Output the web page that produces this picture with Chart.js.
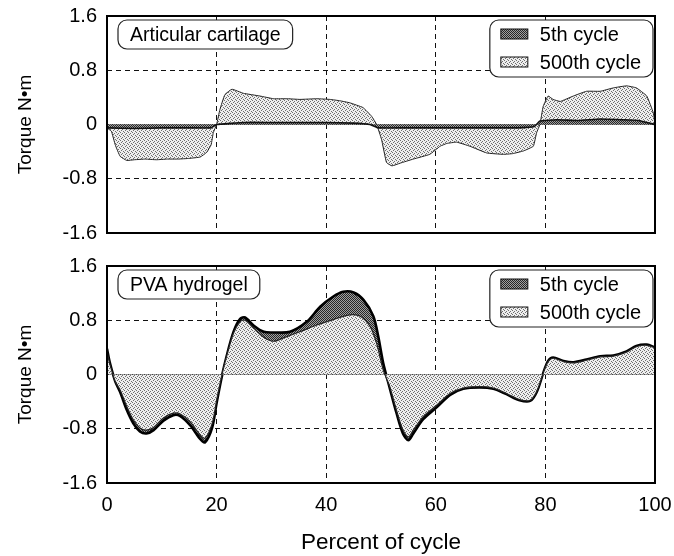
<!DOCTYPE html>
<html><head><meta charset="utf-8">
<script src="https://cdn.jsdelivr.net/npm/chart.js@4.4.1/dist/chart.umd.min.js"></script>
<style>
html,body{margin:0;padding:0;background:#fff;}
#wrap{position:relative;width:674px;height:556px;background:#fff;}
#c1{position:absolute;left:0;top:0;width:674px;height:250px;}
#c2{position:absolute;left:0;top:250px;width:674px;height:306px;}
</style></head><body>
<div id="wrap"><canvas id="c1" width="674" height="250"></canvas><canvas id="c2" width="674" height="306"></canvas></div>
<script>
// ---------- data ----------
const panelTitles = ['Articular cartilage', 'PVA hydrogel'];
const seriesNames = ['5th cycle', '500th cycle'];
const xTickValues = [0, 20, 40, 60, 80, 100];
const xTickLabels = ['0', '20', '40', '60', '80', '100'];
const yTickValues = [-1.6, -0.8, 0, 0.8, 1.6];
const yTickLabels = ['-1.6', '-0.8', '0', '0.8', '1.6'];
const xTitle = 'Percent of cycle';
const yTitle = 'Torque N\u2022m';

// Articular cartilage, 5th cycle
const cart5X = [0, 5, 10, 15, 19, 20, 25, 30, 35, 40, 45, 48, 49.5, 55, 60, 65, 70, 75, 78, 79, 82, 86, 90, 94, 97, 100];
const cart5Y = [-0.05, -0.06, -0.05, -0.05, -0.05, 0, 0.03, 0.03, 0.03, 0.03, 0.02, 0, -0.05, -0.05, -0.05, -0.05, -0.05, -0.05, -0.03, 0.05, 0.07, 0.06, 0.08, 0.07, 0.06, 0];
// Articular cartilage, 500th cycle
const cart500X = [0, 0.8, 1.5, 2.4, 3.6, 5, 7, 9, 11, 13, 15, 17, 18.2, 19, 19.4, 20, 20.6, 21.5, 22.8, 24.9, 27.9, 30.4, 33, 35.2, 38.3, 40.7, 42.5, 44.3, 46.7, 48.3, 49.2, 50.1, 51, 52, 53.5, 55.9, 58.9, 60.8, 62, 63.8, 66.2, 69.3, 72.3, 74, 76, 77.8, 78.4, 79, 79.6, 80.5, 81.4, 82.7, 85.1, 87.5, 90, 92.4, 94.8, 96.6, 98.5, 99.7, 100];
const cart500Y = [-0.05, -0.1, -0.3, -0.47, -0.53, -0.52, -0.51, -0.52, -0.51, -0.51, -0.5, -0.48, -0.41, -0.3, -0.12, 0, 0.22, 0.44, 0.52, 0.46, 0.42, 0.38, 0.38, 0.37, 0.38, 0.37, 0.35, 0.32, 0.25, 0.12, 0, -0.22, -0.56, -0.61, -0.57, -0.51, -0.44, -0.32, -0.28, -0.26, -0.32, -0.42, -0.44, -0.43, -0.39, -0.32, -0.12, 0, 0.27, 0.42, 0.37, 0.34, 0.42, 0.49, 0.49, 0.54, 0.57, 0.54, 0.42, 0.17, 0];

// PVA hydrogel, 5th cycle
const pva5X = [0, 0.5, 1.5, 2.4, 3.6, 4.8, 6, 7.2, 8.5, 10.3, 12.1, 13.3, 15.2, 17, 17.9, 19.2, 20, 20.9, 21.8, 23.1, 24.3, 25.2, 26.8, 28.6, 30.4, 33.4, 36.5, 38.9, 41.3, 43.1, 45, 46.8, 48.6, 49.5, 50.4, 51.6, 52.8, 54, 55, 55.9, 57.7, 60.2, 62.6, 65, 68, 70.5, 72.9, 75.3, 77.2, 78.4, 79.6, 80.5, 81.4, 83.3, 85.1, 87.5, 90, 92.4, 94.8, 96.6, 98.5, 100];
const pva5Y = [0.38, 0.18, -0.1, -0.26, -0.52, -0.72, -0.84, -0.87, -0.82, -0.68, -0.6, -0.61, -0.75, -0.95, -1.0, -0.78, -0.42, -0.05, 0.26, 0.63, 0.82, 0.84, 0.72, 0.63, 0.62, 0.63, 0.78, 1.0, 1.15, 1.22, 1.21, 1.1, 0.86, 0.56, 0.17, -0.2, -0.56, -0.87, -0.97, -0.87, -0.66, -0.48, -0.3, -0.21, -0.19, -0.21, -0.29, -0.38, -0.39, -0.26, 0.02, 0.2, 0.25, 0.2, 0.18, 0.22, 0.27, 0.28, 0.34, 0.42, 0.44, 0.4];
// PVA hydrogel, 500th cycle
const pva500X = [0, 0.5, 1.5, 2.4, 3.6, 4.8, 6, 7.2, 8.5, 10.3, 12.1, 13.3, 15.2, 17, 17.9, 19.2, 20, 20.9, 21.8, 23.1, 24.3, 25.2, 26.8, 28.6, 30.4, 32.2, 35.2, 38.3, 41.3, 44.3, 46.2, 48, 49.2, 50.4, 51.6, 52.8, 54, 55, 55.9, 57.7, 60.2, 62.6, 65, 68, 70.5, 72.9, 75.3, 77.2, 78.4, 79.6, 80.5, 81.4, 83.3, 85.1, 87.5, 90, 92.4, 94.8, 96.6, 98.5, 100];
const pva500Y = [0.33, 0.16, -0.1, -0.23, -0.47, -0.67, -0.79, -0.82, -0.78, -0.64, -0.57, -0.58, -0.7, -0.89, -0.94, -0.72, -0.38, -0.03, 0.26, 0.61, 0.78, 0.8, 0.68, 0.55, 0.49, 0.54, 0.63, 0.73, 0.81, 0.88, 0.86, 0.71, 0.46, 0.07, -0.18, -0.52, -0.82, -0.92, -0.82, -0.62, -0.45, -0.28, -0.2, -0.18, -0.2, -0.28, -0.37, -0.38, -0.25, 0.02, 0.19, 0.24, 0.19, 0.17, 0.21, 0.26, 0.27, 0.33, 0.41, 0.43, 0.39];

// ---------- styles ----------
const FONT = "'Liberation Sans', Arial, Helvetica, sans-serif";
function makePattern(bg, dot, dots) {
  const c = document.createElement('canvas');
  c.width = 4; c.height = 4;
  const g = c.getContext('2d');
  g.fillStyle = bg; g.fillRect(0, 0, 4, 4);
  g.fillStyle = dot;
  dots.forEach(p => g.fillRect(p[0], p[1], 1, 1));
  return g.createPattern(c, 'repeat');
}
const darkPat = makePattern('#a0a0a0', '#262626', [[0,0],[2,0],[1,1],[3,1],[0,2],[2,2],[1,3],[3,3]]);
const lightPat = makePattern('#eeeeee', '#6e6e6e', [[0,0],[2,1],[1,2],[3,3]]);

function pts(xs, ys) { return xs.map((x, i) => ({ x: x, y: ys[i] })); }

function roundRect(ctx, x, y, w, h, r) {
  ctx.beginPath();
  ctx.moveTo(x + r, y);
  ctx.lineTo(x + w - r, y);
  ctx.arcTo(x + w, y, x + w, y + r, r);
  ctx.lineTo(x + w, y + h - r);
  ctx.arcTo(x + w, y + h, x + w - r, y + h, r);
  ctx.lineTo(x + r, y + h);
  ctx.arcTo(x, y + h, x, y + h - r, r);
  ctx.lineTo(x, y + r);
  ctx.arcTo(x, y, x + r, y, r);
  ctx.closePath();
}

const decorPlugin = {
  id: 'decor',
  afterDatasetsDraw(chart, args, opts) {
    const ctx = chart.ctx, a = chart.chartArea;
    ctx.save();
    ctx.strokeStyle = '#000'; ctx.lineWidth = 2; ctx.setLineDash([]);
    ctx.strokeRect(a.left, a.top, a.right - a.left, a.bottom - a.top);
    ctx.textBaseline = 'middle';
    // panel title box
    ctx.font = '19.5px ' + FONT;
    const tw = ctx.measureText(opts.title).width;
    const bx = a.left + 11, by = a.top + 4, bh = 29, bw = tw + 24;
    roundRect(ctx, bx, by, bw, bh, 9);
    ctx.fillStyle = '#fff'; ctx.fill();
    ctx.lineWidth = 1.2; ctx.strokeStyle = '#222'; ctx.stroke();
    ctx.fillStyle = '#000'; ctx.textAlign = 'left';
    ctx.fillText(opts.title, bx + 12, by + bh / 2 + 1);
    // legend box
    ctx.font = '20px ' + FONT;
    const maxW = Math.max(...seriesNames.map(s => ctx.measureText(s).width));
    const lw = 50 + maxW + 12, lh = 57;
    const lx = a.right - 2 - lw, ly = a.top + 4;
    roundRect(ctx, lx, ly, lw, lh, 9);
    ctx.fillStyle = '#fff'; ctx.fill();
    ctx.lineWidth = 1.2; ctx.strokeStyle = '#222'; ctx.stroke();
    const pats = [darkPat, lightPat];
    seriesNames.forEach((s, i) => {
      const cy = ly + 14 + i * 28;
      ctx.fillStyle = pats[i];
      ctx.fillRect(lx + 11, cy - 5, 27, 10);
      ctx.lineWidth = 1; ctx.strokeStyle = '#111';
      ctx.strokeRect(lx + 11, cy - 5, 27, 10);
      ctx.fillStyle = '#000';
      ctx.fillText(s, lx + 50, cy + 1);
    });
    ctx.restore();
  }
};

function zeroPad(s) { s.paddingLeft = 0; s.paddingRight = 0; s.paddingTop = 0; s.paddingBottom = 0; }

function makeChart(canvas, datasets, title, showX) {
  return new Chart(canvas, {
    type: 'line',
    data: { datasets: datasets },
    plugins: [decorPlugin],
    options: {
      responsive: false,
      animation: false,
      events: [],
      layout: { padding: { left: 11, right: 19, top: 16, bottom: showX ? 0 : 17 } },
      plugins: {
        legend: { display: false },
        tooltip: { enabled: false },
        decor: { title: title }
      },
      elements: { point: { radius: 0 } },
      scales: {
        x: {
          type: 'linear', min: 0, max: 100,
          afterBuildTicks: s => { s.ticks = xTickValues.map(v => ({ value: v })); },
          afterFit: s => { s.height = showX ? 73 : 0; zeroPad(s); },
          ticks: { display: showX, padding: 10, color: '#000', font: { family: FONT, size: 20 },
                   callback: (v, i) => xTickLabels[i] },
          grid: { color: '#111', lineWidth: 1, drawTicks: false },
          border: { display: false, dash: [5, 4] },
          title: { display: showX, text: xTitle, color: '#000', font: { family: FONT, size: 22.5 },
                   padding: { top: 0, bottom: 0 } }
        },
        y: {
          min: -1.6, max: 1.6,
          afterBuildTicks: s => { s.ticks = yTickValues.map(v => ({ value: v })); },
          afterFit: s => { s.width = 96; zeroPad(s); },
          ticks: { padding: 10, color: '#000', font: { family: FONT, size: 20 },
                   callback: (v, i) => yTickLabels[i] },
          grid: { color: '#111', lineWidth: 1, drawTicks: false },
          border: { display: false, dash: c => (c.tick && c.tick.value === 0) ? [] : [5, 4] },
          title: { display: true, text: yTitle, color: '#000', font: { family: FONT, size: 19 },
                   padding: { top: 3, bottom: 0 } }
        }
      }
    }
  });
}

makeChart(document.getElementById('c1'), [
  { label: seriesNames[0], data: pts(cart5X, cart5Y), fill: 'origin', backgroundColor: darkPat,
    borderColor: '#111', borderWidth: 1.6, tension: 0.1 },
  { label: seriesNames[1], data: pts(cart500X, cart500Y), fill: 'origin', backgroundColor: lightPat,
    borderColor: '#222', borderWidth: 1, tension: 0.1 }
], panelTitles[0], false);

makeChart(document.getElementById('c2'), [
  { label: seriesNames[1], data: pts(pva500X, pva500Y), fill: 'origin', backgroundColor: lightPat,
    borderColor: '#222', borderWidth: 1.2, tension: 0.3 },
  { label: seriesNames[0], data: pts(pva5X, pva5Y), fill: 'origin', backgroundColor: darkPat,
    borderColor: '#000', borderWidth: 2.6, tension: 0.3 }
], panelTitles[1], true);
</script>
</body></html>
